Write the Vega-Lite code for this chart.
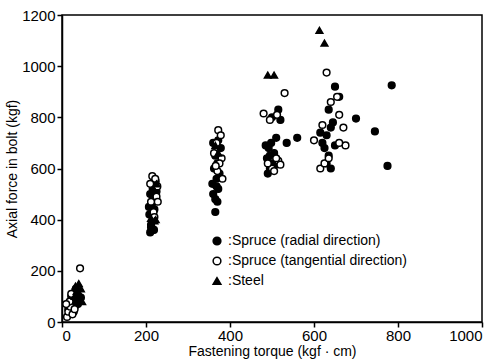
{
  "$schema": "https://vega.github.io/schema/vega-lite/v6.json",
  "width": 420,
  "height": 307,
  "autosize": {"type": "none"},
  "padding": {"left": 62, "top": 15, "right": 13, "bottom": 38},
  "background": "white",
  "config": {
    "font": "Liberation Sans",
    "view": {"stroke": "black", "strokeWidth": 1.5},
    "axis": {"labelFont": "Liberation Sans", "titleFont": "Liberation Sans", "labelFontSize": 15, "titleFontSize": 14, "titleFontWeight": "normal", "labelColor": "black", "titleColor": "black", "domainColor": "black", "tickColor": "black", "grid": false, "tickSize": 5, "domainWidth": 1.5, "tickWidth": 1.5, "format": "d"}
  },
  "data": {"values": [
    {"t": 15, "f": 50, "k": ":Spruce (radial direction)"},
    {"t": 20, "f": 70, "k": ":Spruce (radial direction)"},
    {"t": 25, "f": 90, "k": ":Spruce (radial direction)"},
    {"t": 30, "f": 60, "k": ":Spruce (radial direction)"},
    {"t": 35, "f": 110, "k": ":Spruce (radial direction)"},
    {"t": 28, "f": 40, "k": ":Spruce (radial direction)"},
    {"t": 40, "f": 80, "k": ":Spruce (radial direction)"},
    {"t": 22, "f": 100, "k": ":Spruce (radial direction)"},
    {"t": 33, "f": 130, "k": ":Spruce (radial direction)"},
    {"t": 38, "f": 70, "k": ":Spruce (radial direction)"},
    {"t": 45, "f": 95, "k": ":Spruce (radial direction)"},
    {"t": 18, "f": 30, "k": ":Spruce (radial direction)"},
    {"t": 210, "f": 350, "k": ":Spruce (radial direction)"},
    {"t": 215, "f": 360, "k": ":Spruce (radial direction)"},
    {"t": 212, "f": 380, "k": ":Spruce (radial direction)"},
    {"t": 218, "f": 400, "k": ":Spruce (radial direction)"},
    {"t": 208, "f": 420, "k": ":Spruce (radial direction)"},
    {"t": 220, "f": 440, "k": ":Spruce (radial direction)"},
    {"t": 214, "f": 460, "k": ":Spruce (radial direction)"},
    {"t": 222, "f": 480, "k": ":Spruce (radial direction)"},
    {"t": 210, "f": 500, "k": ":Spruce (radial direction)"},
    {"t": 216, "f": 520, "k": ":Spruce (radial direction)"},
    {"t": 225, "f": 510, "k": ":Spruce (radial direction)"},
    {"t": 212, "f": 370, "k": ":Spruce (radial direction)"},
    {"t": 219, "f": 360, "k": ":Spruce (radial direction)"},
    {"t": 207, "f": 450, "k": ":Spruce (radial direction)"},
    {"t": 223, "f": 550, "k": ":Spruce (radial direction)"},
    {"t": 365, "f": 430, "k": ":Spruce (radial direction)"},
    {"t": 370, "f": 470, "k": ":Spruce (radial direction)"},
    {"t": 360, "f": 500, "k": ":Spruce (radial direction)"},
    {"t": 372, "f": 520, "k": ":Spruce (radial direction)"},
    {"t": 358, "f": 540, "k": ":Spruce (radial direction)"},
    {"t": 368, "f": 560, "k": ":Spruce (radial direction)"},
    {"t": 375, "f": 580, "k": ":Spruce (radial direction)"},
    {"t": 362, "f": 600, "k": ":Spruce (radial direction)"},
    {"t": 370, "f": 620, "k": ":Spruce (radial direction)"},
    {"t": 365, "f": 650, "k": ":Spruce (radial direction)"},
    {"t": 378, "f": 680, "k": ":Spruce (radial direction)"},
    {"t": 360, "f": 700, "k": ":Spruce (radial direction)"},
    {"t": 372, "f": 710, "k": ":Spruce (radial direction)"},
    {"t": 365, "f": 480, "k": ":Spruce (radial direction)"},
    {"t": 368, "f": 530, "k": ":Spruce (radial direction)"},
    {"t": 490, "f": 580, "k": ":Spruce (radial direction)"},
    {"t": 495, "f": 600, "k": ":Spruce (radial direction)"},
    {"t": 500, "f": 620, "k": ":Spruce (radial direction)"},
    {"t": 488, "f": 640, "k": ":Spruce (radial direction)"},
    {"t": 505, "f": 660, "k": ":Spruce (radial direction)"},
    {"t": 492, "f": 680, "k": ":Spruce (radial direction)"},
    {"t": 498, "f": 700, "k": ":Spruce (radial direction)"},
    {"t": 485, "f": 690, "k": ":Spruce (radial direction)"},
    {"t": 510, "f": 720, "k": ":Spruce (radial direction)"},
    {"t": 500, "f": 800, "k": ":Spruce (radial direction)"},
    {"t": 515, "f": 830, "k": ":Spruce (radial direction)"},
    {"t": 520, "f": 790, "k": ":Spruce (radial direction)"},
    {"t": 535, "f": 700, "k": ":Spruce (radial direction)"},
    {"t": 495, "f": 650, "k": ":Spruce (radial direction)"},
    {"t": 505, "f": 610, "k": ":Spruce (radial direction)"},
    {"t": 560, "f": 720, "k": ":Spruce (radial direction)"},
    {"t": 620, "f": 700, "k": ":Spruce (radial direction)"},
    {"t": 630, "f": 730, "k": ":Spruce (radial direction)"},
    {"t": 640, "f": 760, "k": ":Spruce (radial direction)"},
    {"t": 625, "f": 680, "k": ":Spruce (radial direction)"},
    {"t": 635, "f": 650, "k": ":Spruce (radial direction)"},
    {"t": 645, "f": 780, "k": ":Spruce (radial direction)"},
    {"t": 650, "f": 920, "k": ":Spruce (radial direction)"},
    {"t": 635, "f": 830, "k": ":Spruce (radial direction)"},
    {"t": 630, "f": 620, "k": ":Spruce (radial direction)"},
    {"t": 660, "f": 880, "k": ":Spruce (radial direction)"},
    {"t": 615, "f": 740, "k": ":Spruce (radial direction)"},
    {"t": 700, "f": 795, "k": ":Spruce (radial direction)"},
    {"t": 745, "f": 745, "k": ":Spruce (radial direction)"},
    {"t": 785, "f": 925, "k": ":Spruce (radial direction)"},
    {"t": 775, "f": 610, "k": ":Spruce (radial direction)"},
    {"t": 640, "f": 600, "k": ":Spruce (radial direction)"},
    {"t": 650, "f": 690, "k": ":Spruce (radial direction)"},
    {"t": 12, "f": 20, "k": ":Spruce (tangential direction)"},
    {"t": 15, "f": 40, "k": ":Spruce (tangential direction)"},
    {"t": 20, "f": 60, "k": ":Spruce (tangential direction)"},
    {"t": 25, "f": 30, "k": ":Spruce (tangential direction)"},
    {"t": 18, "f": 80, "k": ":Spruce (tangential direction)"},
    {"t": 30, "f": 50, "k": ":Spruce (tangential direction)"},
    {"t": 43, "f": 210, "k": ":Spruce (tangential direction)"},
    {"t": 10, "f": 70, "k": ":Spruce (tangential direction)"},
    {"t": 22, "f": 110, "k": ":Spruce (tangential direction)"},
    {"t": 215, "f": 570, "k": ":Spruce (tangential direction)"},
    {"t": 222, "f": 560, "k": ":Spruce (tangential direction)"},
    {"t": 210, "f": 540, "k": ":Spruce (tangential direction)"},
    {"t": 225, "f": 490, "k": ":Spruce (tangential direction)"},
    {"t": 218, "f": 430, "k": ":Spruce (tangential direction)"},
    {"t": 228, "f": 470, "k": ":Spruce (tangential direction)"},
    {"t": 212, "f": 470, "k": ":Spruce (tangential direction)"},
    {"t": 220, "f": 410, "k": ":Spruce (tangential direction)"},
    {"t": 227, "f": 530, "k": ":Spruce (tangential direction)"},
    {"t": 372, "f": 750, "k": ":Spruce (tangential direction)"},
    {"t": 378, "f": 730, "k": ":Spruce (tangential direction)"},
    {"t": 368, "f": 700, "k": ":Spruce (tangential direction)"},
    {"t": 380, "f": 640, "k": ":Spruce (tangential direction)"},
    {"t": 375, "f": 620, "k": ":Spruce (tangential direction)"},
    {"t": 362, "f": 660, "k": ":Spruce (tangential direction)"},
    {"t": 370, "f": 590, "k": ":Spruce (tangential direction)"},
    {"t": 382, "f": 560, "k": ":Spruce (tangential direction)"},
    {"t": 366, "f": 610, "k": ":Spruce (tangential direction)"},
    {"t": 480, "f": 815, "k": ":Spruce (tangential direction)"},
    {"t": 495, "f": 790, "k": ":Spruce (tangential direction)"},
    {"t": 512, "f": 810, "k": ":Spruce (tangential direction)"},
    {"t": 530, "f": 895, "k": ":Spruce (tangential direction)"},
    {"t": 500, "f": 600, "k": ":Spruce (tangential direction)"},
    {"t": 515, "f": 630, "k": ":Spruce (tangential direction)"},
    {"t": 520, "f": 615, "k": ":Spruce (tangential direction)"},
    {"t": 490, "f": 620, "k": ":Spruce (tangential direction)"},
    {"t": 510, "f": 640, "k": ":Spruce (tangential direction)"},
    {"t": 505, "f": 590, "k": ":Spruce (tangential direction)"},
    {"t": 630, "f": 975, "k": ":Spruce (tangential direction)"},
    {"t": 600, "f": 710, "k": ":Spruce (tangential direction)"},
    {"t": 615, "f": 600, "k": ":Spruce (tangential direction)"},
    {"t": 625, "f": 620, "k": ":Spruce (tangential direction)"},
    {"t": 640, "f": 860, "k": ":Spruce (tangential direction)"},
    {"t": 655, "f": 880, "k": ":Spruce (tangential direction)"},
    {"t": 660, "f": 810, "k": ":Spruce (tangential direction)"},
    {"t": 670, "f": 760, "k": ":Spruce (tangential direction)"},
    {"t": 675, "f": 690, "k": ":Spruce (tangential direction)"},
    {"t": 660, "f": 700, "k": ":Spruce (tangential direction)"},
    {"t": 620, "f": 770, "k": ":Spruce (tangential direction)"},
    {"t": 635, "f": 640, "k": ":Spruce (tangential direction)"},
    {"t": 30, "f": 100, "k": ":Steel"},
    {"t": 35, "f": 120, "k": ":Steel"},
    {"t": 40, "f": 150, "k": ":Steel"},
    {"t": 45, "f": 130, "k": ":Steel"},
    {"t": 38, "f": 90, "k": ":Steel"},
    {"t": 42, "f": 110, "k": ":Steel"},
    {"t": 48, "f": 80, "k": ":Steel"},
    {"t": 32, "f": 140, "k": ":Steel"},
    {"t": 215, "f": 380, "k": ":Steel"},
    {"t": 220, "f": 395, "k": ":Steel"},
    {"t": 212, "f": 405, "k": ":Steel"},
    {"t": 225, "f": 540, "k": ":Steel"},
    {"t": 218, "f": 520, "k": ":Steel"},
    {"t": 223, "f": 400, "k": ":Steel"},
    {"t": 365, "f": 690, "k": ":Steel"},
    {"t": 372, "f": 660, "k": ":Steel"},
    {"t": 490, "f": 965, "k": ":Steel"},
    {"t": 505, "f": 965, "k": ":Steel"},
    {"t": 613, "f": 1140, "k": ":Steel"},
    {"t": 625, "f": 1090, "k": ":Steel"}
  ]},
  "mark": {"type": "point", "filled": false, "stroke": "black", "strokeWidth": 1.5, "opacity": 1, "size": 45},
  "encoding": {
    "x": {"field": "t", "type": "quantitative", "scale": {"domain": [0, 1000]}, "axis": {"title": "Fastening torque (kgf · cm)", "values": [0, 200, 400, 600, 800, 1000], "labelPadding": 1, "titlePadding": 1}},
    "y": {"field": "f", "type": "quantitative", "scale": {"domain": [0, 1200]}, "axis": {"title": "Axial force in bolt (kgf)", "values": [0, 200, 400, 600, 800, 1000, 1200], "labelPadding": 2, "titlePadding": 2}},
    "shape": {"field": "k", "type": "nominal", "scale": {"domain": [":Spruce (radial direction)", ":Spruce (tangential direction)", ":Steel"], "range": ["circle", "circle", "triangle-up"]},
      "legend": {"title": null, "orient": "none", "legendX": 148, "legendY": 219, "labelFontSize": 14, "labelFont": "Liberation Sans", "labelColor": "black", "labelLimit": 0, "symbolSize": 60, "rowPadding": 6, "symbolStrokeWidth": 1.5, "labelOffset": 4}},
    "fill": {"field": "k", "type": "nominal", "scale": {"domain": [":Spruce (radial direction)", ":Spruce (tangential direction)", ":Steel"], "range": ["black", "white", "black"]}, "legend": {"title": null, "orient": "none", "legendX": 148, "legendY": 219, "labelFontSize": 14, "labelFont": "Liberation Sans", "labelColor": "black", "labelLimit": 0, "symbolSize": 60, "rowPadding": 6, "symbolStrokeWidth": 1.5, "labelOffset": 4}}
  }
}
